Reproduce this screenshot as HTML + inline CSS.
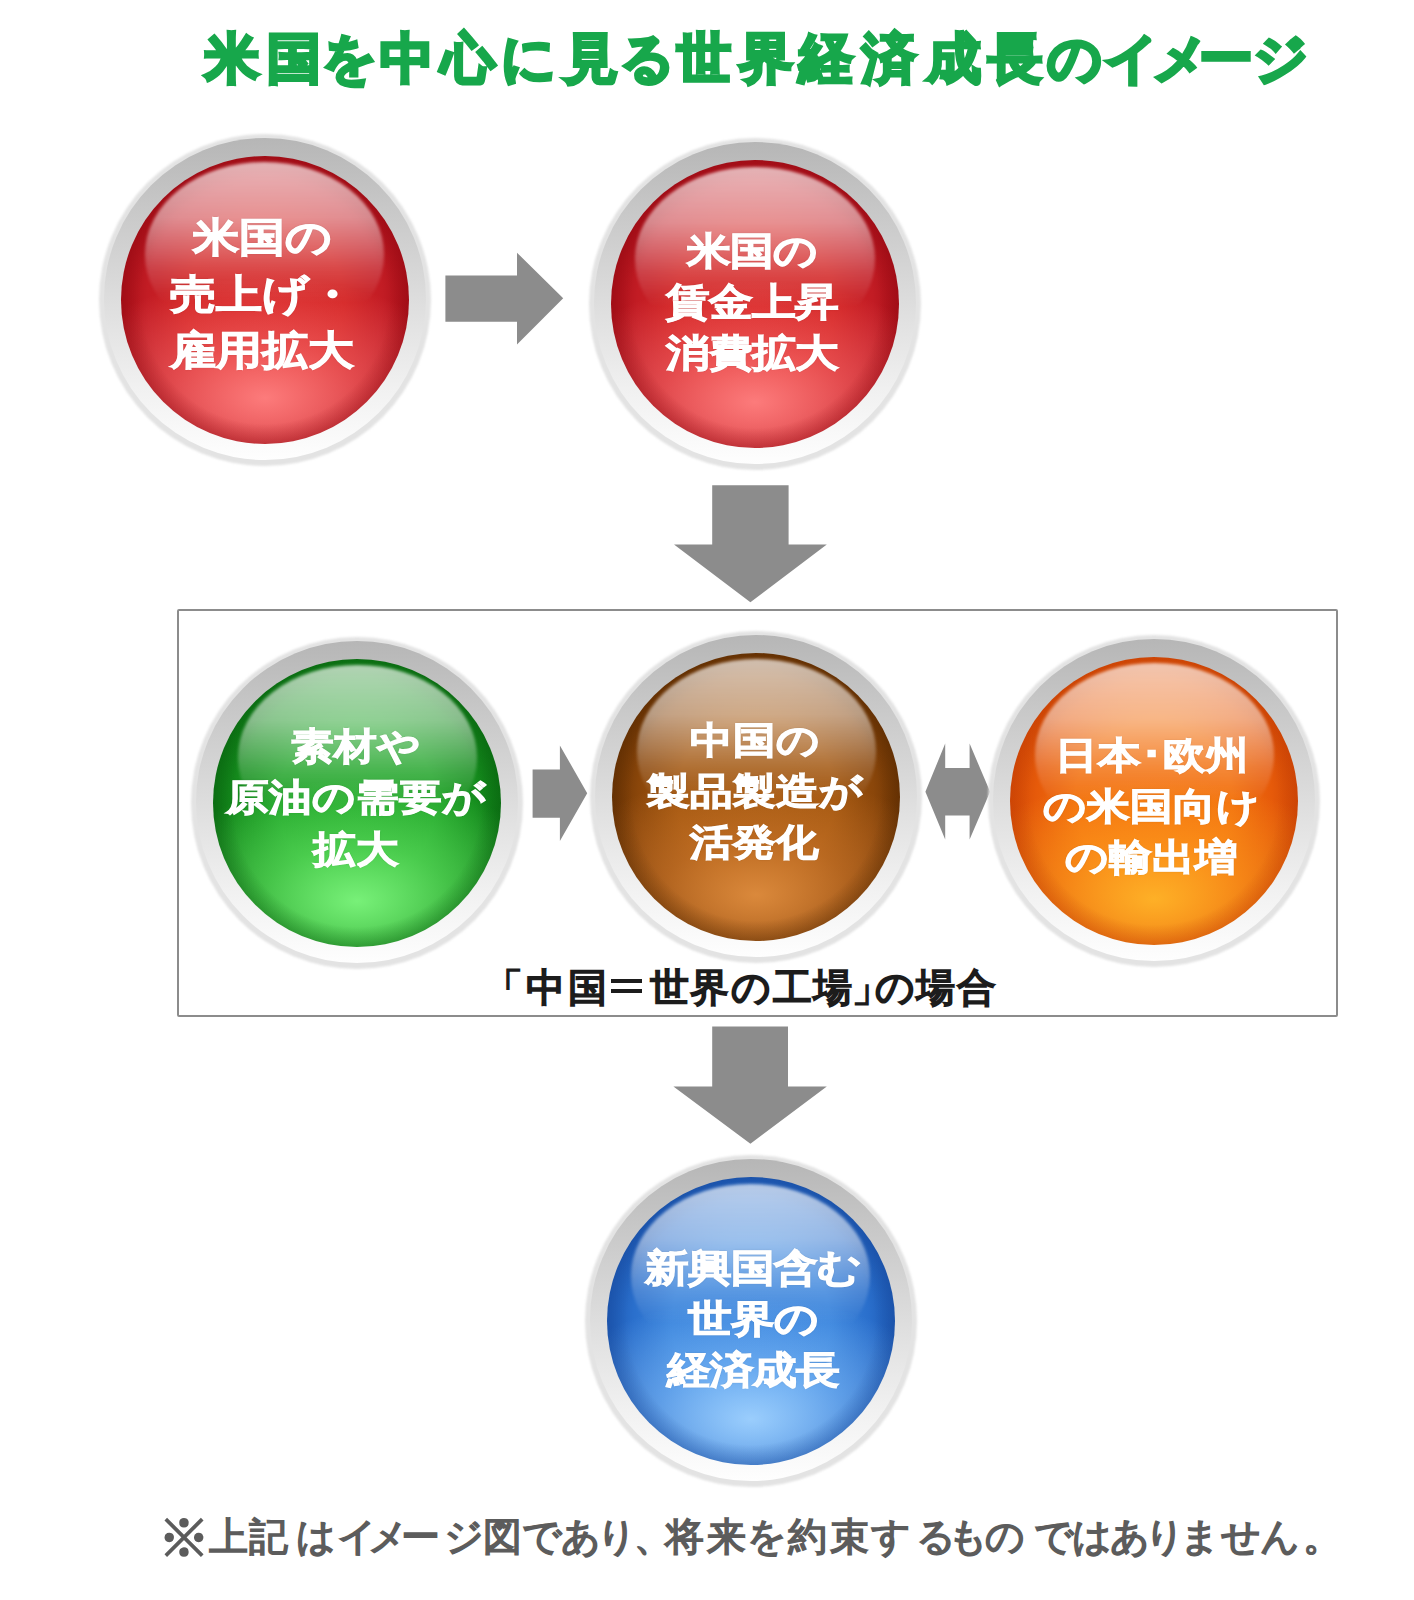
<!DOCTYPE html>
<html lang="ja">
<head>
<meta charset="utf-8">
<style>
html,body{margin:0;padding:0;background:#fff;}
body{width:1414px;height:1600px;position:relative;overflow:hidden;font-family:"Liberation Sans",sans-serif;}
.title{position:absolute;white-space:nowrap;font-size:54px;font-weight:bold;color:#17a74b;line-height:70px;-webkit-text-stroke:3.4px #17a74b;}
.eqbar{position:absolute;background:#1c1c1c;}
.rim{position:absolute;border-radius:50%;background:#e3e3e3;filter:blur(1.2px);}
.ring{position:absolute;border-radius:50%;background:linear-gradient(180deg,#b6b6b6 0%,#c8c8c8 22%,#dddddd 50%,#f1f1f1 78%,#fefefe 100%);}
.sph{position:absolute;border-radius:50%;overflow:hidden;}
.sph::before{content:"";position:absolute;left:8.5%;top:2.2%;width:83%;height:64%;border-radius:50%;
  background:linear-gradient(180deg,rgba(255,255,255,0.68) 0%,rgba(255,255,255,0.50) 30%,rgba(255,255,255,0.16) 58%,rgba(255,255,255,0) 76%);filter:blur(1.5px);}
.txt{position:absolute;width:320px;height:240px;display:flex;align-items:center;justify-content:center;text-align:center;}
.txt span{display:block;color:#fff;font-weight:bold;white-space:nowrap;-webkit-text-stroke:1.25px #fff;transform:scaleY(0.87);text-shadow:0 0 2px rgba(0,0,0,0.25);}
.red{background:radial-gradient(circle closest-side at 50% 50%,rgba(150,10,20,0) 86%,rgba(150,10,20,0.4) 100%),radial-gradient(ellipse 74% 42% at 50% 84%,rgba(255,128,128,0.95) 0%,rgba(248,105,105,0.6) 45%,rgba(240,90,90,0) 100%),radial-gradient(circle closest-side at 50% 50%,#d62626 0%,#d22424 55%,#c21c24 82%,#a80f18 100%);}
.green{background:radial-gradient(circle closest-side at 50% 50%,rgba(10,100,16,0) 86%,rgba(10,100,16,0.4) 100%),radial-gradient(ellipse 74% 42% at 50% 84%,rgba(125,245,125,0.95) 0%,rgba(100,230,100,0.6) 45%,rgba(80,210,80,0) 100%),radial-gradient(circle closest-side at 50% 50%,#24a82c 0%,#22a42a 55%,#168e1e 82%,#0c7414 100%);}
.brown{background:radial-gradient(circle closest-side at 50% 50%,rgba(90,44,2,0) 86%,rgba(90,44,2,0.4) 100%),radial-gradient(ellipse 74% 42% at 50% 84%,rgba(222,140,62,0.95) 0%,rgba(205,120,45,0.6) 45%,rgba(190,100,30,0) 100%),radial-gradient(circle closest-side at 50% 50%,#a45810 0%,#a2560f 55%,#8a460a 82%,#6c3404 100%);}
.orange{background:radial-gradient(circle closest-side at 50% 50%,rgba(200,64,4,0) 86%,rgba(200,64,4,0.4) 100%),radial-gradient(ellipse 74% 42% at 50% 84%,rgba(255,180,40,0.95) 0%,rgba(255,160,30,0.6) 45%,rgba(250,140,20,0) 100%),radial-gradient(circle closest-side at 50% 50%,#f4720f 0%,#f2700f 55%,#e65a0a 82%,#d04806 100%);}
.blue{background:radial-gradient(circle closest-side at 50% 50%,rgba(24,76,160,0) 86%,rgba(24,76,160,0.4) 100%),radial-gradient(ellipse 74% 42% at 50% 84%,rgba(160,210,255,0.95) 0%,rgba(130,190,250,0.6) 45%,rgba(100,160,240,0) 100%),radial-gradient(circle closest-side at 50% 50%,#3c86de 0%,#3a84dc 55%,#2a6fcc 82%,#1d58b2 100%);}
.box{position:absolute;left:177px;top:609.3px;width:1157.1px;height:404px;border:2.6px solid #8c8c8c;border-radius:2px;box-sizing:content-box;}
.cap{position:absolute;font-size:39px;font-weight:normal;color:#1c1c1c;white-space:nowrap;line-height:60px;-webkit-text-stroke:2.0px #1c1c1c;}
.foot{position:absolute;font-size:39px;font-weight:normal;color:#5c5c5c;white-space:nowrap;line-height:60px;-webkit-text-stroke:1.6px #5c5c5c;}
svg.arr{position:absolute;left:0;top:0;}

</style>
</head>
<body>
<span class="title" style="left:204.6px;top:22.5px">米</span>
<span class="title" style="left:267.2px;top:22.5px">国</span>
<span class="title" style="left:321.8px;top:22.5px">を</span>
<span class="title" style="left:379.9px;top:22.5px">中</span>
<span class="title" style="left:441.4px;top:22.5px">心</span>
<span class="title" style="left:501.0px;top:22.5px">に</span>
<span class="title" style="left:564.0px;top:22.5px">見</span>
<span class="title" style="left:619.9px;top:22.5px">る</span>
<span class="title" style="left:676.9px;top:22.5px">世</span>
<span class="title" style="left:739.1px;top:22.5px">界</span>
<span class="title" style="left:799.4px;top:22.5px">経</span>
<span class="title" style="left:862.4px;top:22.5px">済</span>
<span class="title" style="left:927.1px;top:22.5px">成</span>
<span class="title" style="left:987.6px;top:22.5px">長</span>
<span class="title" style="left:1046.7px;top:22.5px">の</span>
<span class="title" style="left:1103.7px;top:22.5px">イ</span>
<span class="title" style="left:1152.7px;top:22.5px">メ</span>
<span class="title" style="left:1198.9px;top:22.5px">ー</span>
<span class="title" style="left:1252.7px;top:22.5px">ジ</span>
<svg class="arr" width="1414" height="1600" viewBox="0 0 1414 1600">
  <g fill="#8c8c8c">
    <polygon points="445.4,275.5 517,275.5 517,252.7 563.2,298.3 517,344.5 517,321.7 445.4,321.7"/>
    <polygon points="712.2,485.2 788.6,485.2 788.6,544.4 826.8,544.4 750.4,602.3 674,544.4 712.2,544.4"/>
    <polygon points="532.6,769.5 559.9,769.5 559.9,745.4 587.2,793.3 559.9,841 559.9,817.7 532.6,817.7"/>
    <polygon points="925.4,791.8 945.2,743.6 945.2,768.1 969.6,768.1 969.6,743.6 990.1,791.8 969.6,839.4 969.6,815.5 945.2,815.5 945.2,839.4"/>
    <polygon points="712.2,1026.5 788,1026.5 788,1086.4 826.8,1086.4 750.4,1143.7 673.4,1086.4 712.2,1086.4"/>
  </g>
</svg>

<div class="box"></div>
<div class="rim" style="left:98.5px;top:134.0px;width:332px;height:332px"></div>
<div class="ring" style="left:103.5px;top:138.0px;width:322px;height:322px"></div>
<div class="sph red" style="left:120.5px;top:156.0px;width:288px;height:288px"></div>
<div class="txt" style="left:102.0px;top:173.5px"><span style="font-size:45.9px;line-height:64.60px">米国の<br>売上げ・<br>雇用拡大</span></div>
<div class="rim" style="left:589.0px;top:138.4px;width:332px;height:332px"></div>
<div class="ring" style="left:594.0px;top:142.4px;width:322px;height:322px"></div>
<div class="sph red" style="left:611.0px;top:160.4px;width:288px;height:288px"></div>
<div class="txt" style="left:592.0px;top:182.0px"><span style="font-size:43.3px;line-height:58.97px">米国の<br>賃金上昇<br>消費拡大</span></div>
<div class="rim" style="left:191.2px;top:637.0px;width:332px;height:332px"></div>
<div class="ring" style="left:196.2px;top:641.0px;width:322px;height:322px"></div>
<div class="sph green" style="left:213.2px;top:659.0px;width:288px;height:288px"></div>
<div class="txt" style="left:195.7px;top:678.0px"><span style="font-size:42.5px;line-height:58.85px">素材や<br>原油の需要が<br>拡大</span></div>
<div class="rim" style="left:590.3px;top:630.9px;width:332px;height:332px"></div>
<div class="ring" style="left:595.3px;top:634.9px;width:322px;height:322px"></div>
<div class="sph brown" style="left:612.3px;top:652.9px;width:288px;height:288px"></div>
<div class="txt" style="left:594.7px;top:670.9px"><span style="font-size:43.0px;line-height:58.74px">中国の<br>製品製造が<br>活発化</span></div>
<div class="rim" style="left:988.4px;top:634.8px;width:332px;height:332px"></div>
<div class="ring" style="left:993.4px;top:638.8px;width:322px;height:322px"></div>
<div class="sph orange" style="left:1010.4px;top:656.8px;width:288px;height:288px"></div>
<div class="txt" style="left:991.9px;top:685.8px"><span style="font-size:42.8px;line-height:58.62px">日本･欧州<br>の米国向け<br>の輸出増</span></div>
<div class="rim" style="left:584.9px;top:1155.3px;width:332px;height:332px"></div>
<div class="ring" style="left:589.9px;top:1159.3px;width:322px;height:322px"></div>
<div class="sph blue" style="left:606.9px;top:1177.3px;width:288px;height:288px"></div>
<div class="txt" style="left:592.9px;top:1199.9px"><span style="font-size:43.4px;line-height:59.20px">新興国含む<br>世界の<br>経済成長</span></div>
<div class="eqbar" style="left:611.4px;top:979.3px;width:30.9px;height:4.2px"></div>
<div class="eqbar" style="left:611.4px;top:989.0px;width:30.9px;height:4.2px"></div>
<span class="cap" style="left:484.2px;top:958.4px">「</span>
<span class="cap" style="left:525.8px;top:958.4px">中</span>
<span class="cap" style="left:567.6px;top:958.4px">国</span>
<span class="cap" style="left:649.9px;top:958.4px">世</span>
<span class="cap" style="left:690.0px;top:958.4px">界</span>
<span class="cap" style="left:730.7px;top:958.4px">の</span>
<span class="cap" style="left:773.0px;top:958.4px">工</span>
<span class="cap" style="left:813.4px;top:958.4px">場</span>
<span class="cap" style="left:851.9px;top:958.4px">」</span>
<span class="cap" style="left:874.7px;top:958.4px">の</span>
<span class="cap" style="left:915.9px;top:958.4px">場</span>
<span class="cap" style="left:956.5px;top:958.4px">合</span>
<span class="foot" style="left:158px;top:1508px;font-size:52px">※</span>
<span class="foot" style="left:208.6px;top:1507.4px">上</span>
<span class="foot" style="left:249.4px;top:1507.4px">記</span>
<span class="foot" style="left:295.9px;top:1507.4px">は</span>
<span class="foot" style="left:336.8px;top:1507.4px">イ</span>
<span class="foot" style="left:367.9px;top:1507.4px">メ</span>
<span class="foot" style="left:401.4px;top:1507.4px">ー</span>
<span class="foot" style="left:443.9px;top:1507.4px">ジ</span>
<span class="foot" style="left:483.0px;top:1507.4px">図</span>
<span class="foot" style="left:522.3px;top:1507.4px">で</span>
<span class="foot" style="left:561.0px;top:1507.4px">あ</span>
<span class="foot" style="left:596.5px;top:1507.4px">り</span>
<span class="foot" style="left:634.0px;top:1507.4px">、</span>
<span class="foot" style="left:665.2px;top:1507.4px">将</span>
<span class="foot" style="left:707.0px;top:1507.4px">来</span>
<span class="foot" style="left:746.5px;top:1507.4px">を</span>
<span class="foot" style="left:788.2px;top:1507.4px">約</span>
<span class="foot" style="left:829.8px;top:1507.4px">束</span>
<span class="foot" style="left:871.2px;top:1507.4px">す</span>
<span class="foot" style="left:916.0px;top:1507.4px">る</span>
<span class="foot" style="left:948.0px;top:1507.4px">も</span>
<span class="foot" style="left:985.0px;top:1507.4px">の</span>
<span class="foot" style="left:1034.0px;top:1507.4px">で</span>
<span class="foot" style="left:1071.5px;top:1507.4px">は</span>
<span class="foot" style="left:1110.3px;top:1507.4px">あ</span>
<span class="foot" style="left:1144.8px;top:1507.4px">り</span>
<span class="foot" style="left:1180.2px;top:1507.4px">ま</span>
<span class="foot" style="left:1221.0px;top:1507.4px">せ</span>
<span class="foot" style="left:1259.5px;top:1507.4px">ん</span>
<span class="foot" style="left:1303.2px;top:1507.4px">。</span>
</body>
</html>
